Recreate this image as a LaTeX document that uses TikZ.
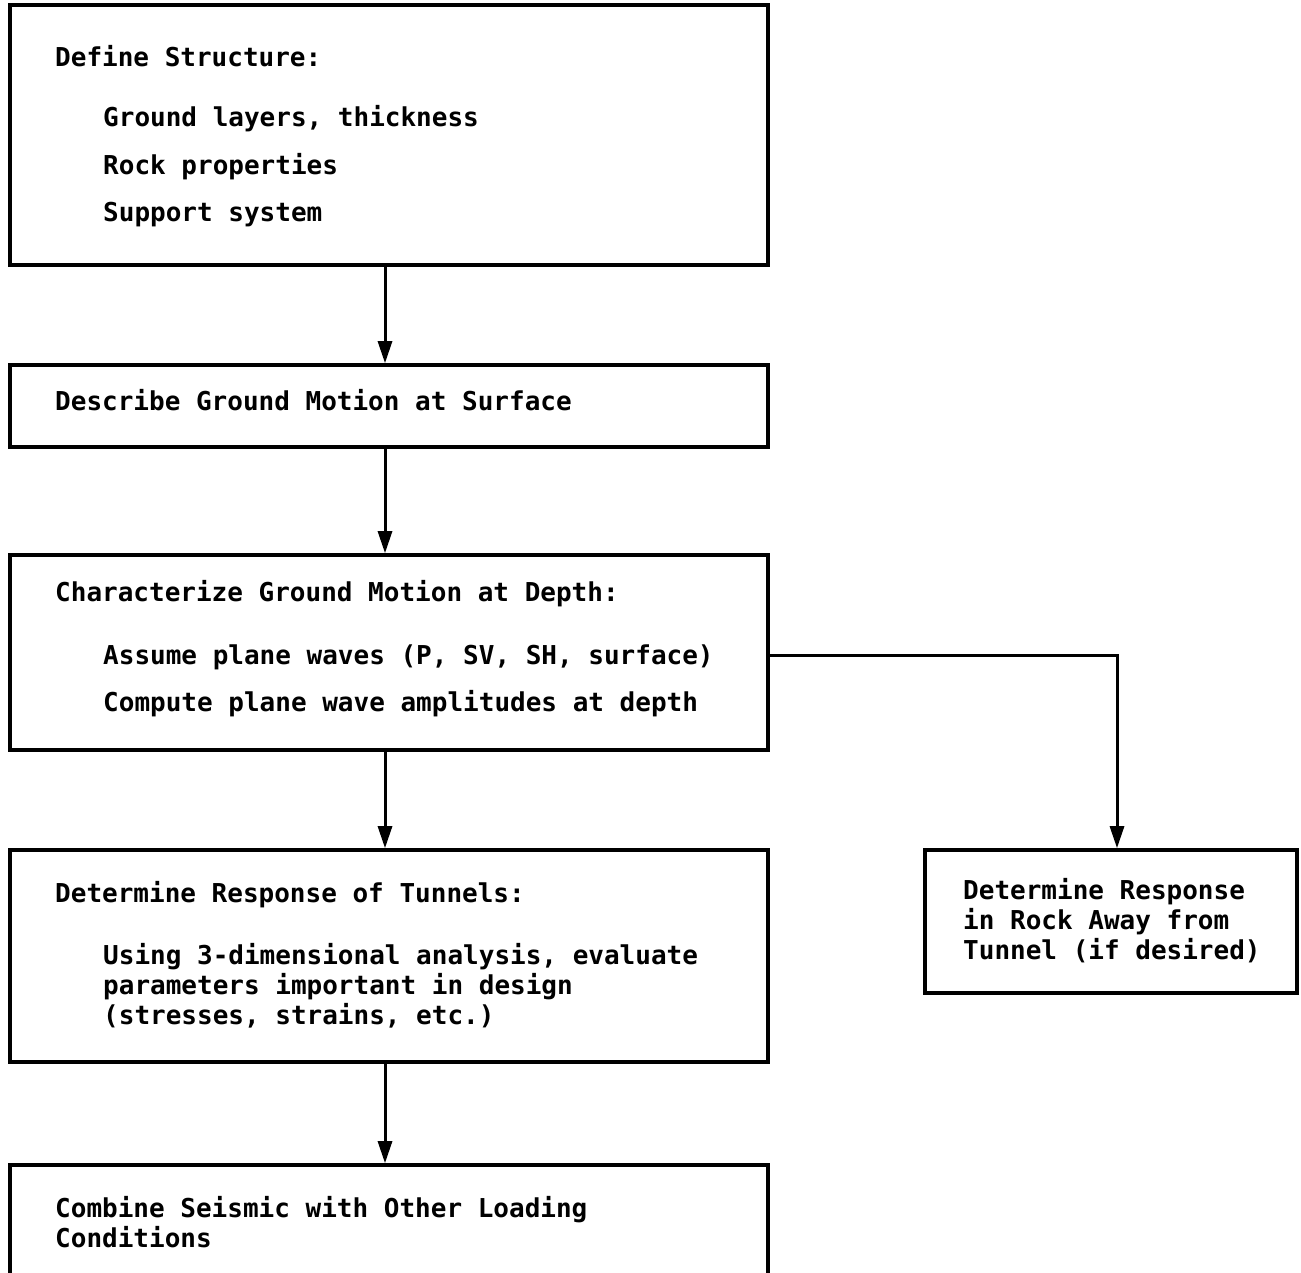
\documentclass[tikz,border=0pt]{standalone}
\usepackage{fontspec}
\newfontfamily\tfont{DejaVu Sans Mono}
\usetikzlibrary{arrows.meta}
\tikzset{
  box/.style={draw, line width=3.6pt, rectangle, inner sep=0pt},
  txt/.style={font=\tfont\bfseries\fontsize{26}{30}\selectfont, inner sep=0pt, anchor=base west},
  arr/.style={line width=3pt, -{Triangle[length=22pt,width=14pt]}},
}
\begin{document}
\begin{tikzpicture}[x=1pt,y=-1pt]
\path[use as bounding box, clip] (0,0) rectangle (1301,1272);
\fill[white] (0,0) rectangle (1301,1272);
% boxes
\node[box, minimum width=758pt, minimum height=260pt] (b1) at (389,135) {};
\node[box, minimum width=758pt, minimum height=82pt]  (b2) at (389,406) {};
\node[box, minimum width=758pt, minimum height=195pt] (b3) at (389,652.5) {};
\node[box, minimum width=758pt, minimum height=212pt] (b4) at (389,956) {};
\node[box, minimum width=758pt, minimum height=140pt] (b5) at (389,1235) {};
\node[box, minimum width=372pt, minimum height=143pt] (b6) at (1111,921.5) {};
% texts
\node[txt] (t1a) at (55,66.5) {Define Structure:};
\node[txt] (t1b) at (103,126.5) {Ground layers, thickness};
\node[txt] (t1c) at (103,174.5) {Rock properties};
\node[txt] (t1d) at (103,221.5) {Support system};
\node[txt] (t2a) at (55,410.5) {Describe Ground Motion at Surface};
\node[txt] (t3a) at (55,601.5) {Characterize Ground Motion at Depth:};
\node[txt] (t3b) at (103,664.5) {Assume plane waves (P, SV, SH, surface)};
\node[txt] (t3c) at (103,711.5) {Compute plane wave amplitudes at depth};
\node[txt] (t4a) at (55,902.5) {Determine Response of Tunnels:};
\node[txt] (t4b) at (103,964.5) {Using 3-dimensional analysis, evaluate};
\node[txt] (t4c) at (103,994.5) {parameters important in design};
\node[txt] (t4d) at (103,1024.5) {(stresses, strains, etc.)};
\node[txt] (t5a) at (55,1217.5) {Combine Seismic with Other Loading};
\node[txt] (t5b) at (55,1247.5) {Conditions};
\node[txt] (t6a) at (963,899.5) {Determine Response};
\node[txt] (t6b) at (963,929.5) {in Rock Away from};
\node[txt] (t6c) at (963,959.5) {Tunnel (if desired)};
% connectors
\draw[arr] ([xshift=-4pt]b1.south) -- ([xshift=-4pt]b2.north);
\draw[arr] ([xshift=-4pt]b2.south) -- ([xshift=-4pt]b3.north);
\draw[arr] ([xshift=-4pt]b3.south) -- ([xshift=-4pt]b4.north);
\draw[arr] ([xshift=-4pt]b4.south) -- ([xshift=-4pt]b5.north);
\draw[arr] ([yshift=-2.5pt]b3.east) -| ([xshift=6pt]b6.north);
\end{tikzpicture}
\end{document}
